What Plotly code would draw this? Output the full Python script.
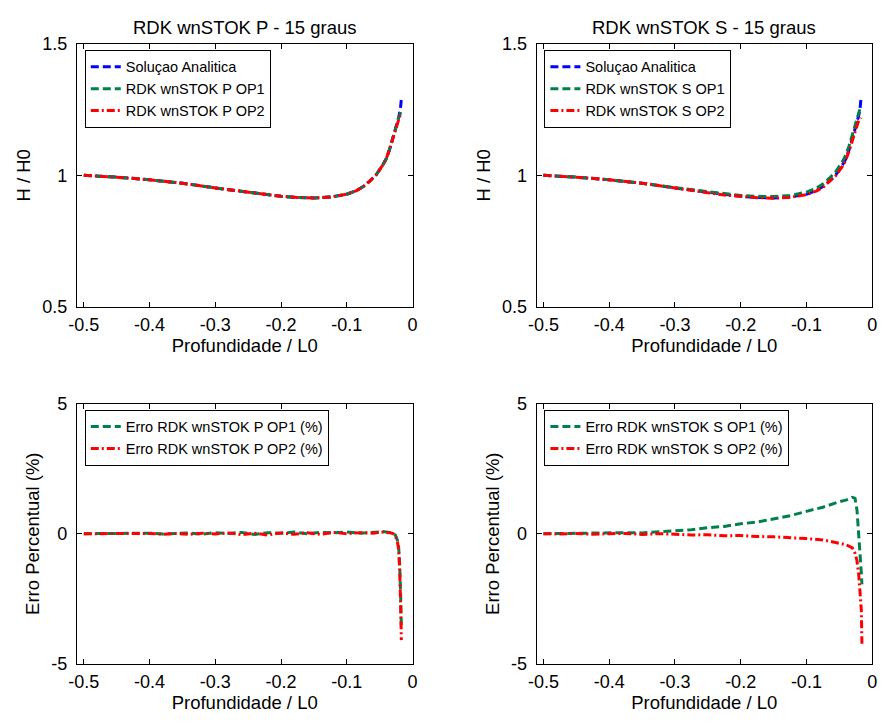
import plotly.graph_objects as go

# ---------------- data ----------------
depth_analytic = [-0.5, -0.45, -0.4, -0.35, -0.3, -0.275, -0.25, -0.225, -0.2, -0.175, -0.15,
                  -0.125, -0.1, -0.085, -0.075, -0.065, -0.055, -0.045, -0.04, -0.035, -0.03,
                  -0.025, -0.021, -0.0185, -0.017]
h_analytic = [1.000, 0.993, 0.983, 0.970, 0.952, 0.944, 0.935, 0.926, 0.920, 0.916, 0.914,
              0.917, 0.928, 0.942, 0.957, 0.978, 1.003, 1.040, 1.063, 1.098, 1.138,
              1.185, 1.222, 1.250, 1.290]

depth_num = [-0.5, -0.45, -0.4, -0.35, -0.3, -0.275, -0.25, -0.225, -0.2, -0.175, -0.15,
             -0.125, -0.1, -0.085, -0.075, -0.065, -0.055, -0.045, -0.04, -0.035, -0.03,
             -0.025, -0.021, -0.0175]
h_p_op1 = [1.000, 0.993, 0.983, 0.970, 0.952, 0.944, 0.935, 0.926, 0.920, 0.916, 0.914,
           0.917, 0.928, 0.942, 0.957, 0.978, 1.003, 1.040, 1.063, 1.098, 1.138,
           1.185, 1.220, 1.242]
h_p_op2 = [1.000, 0.993, 0.983, 0.970, 0.952, 0.944, 0.935, 0.926, 0.920, 0.916, 0.914,
           0.917, 0.928, 0.942, 0.957, 0.978, 1.003, 1.040, 1.063, 1.098, 1.138,
           1.185, 1.219, 1.240]
h_s_op1 = [1.000, 0.993, 0.983, 0.970, 0.953, 0.945, 0.937, 0.929, 0.923, 0.920, 0.919,
           0.923, 0.936, 0.951, 0.967, 0.989, 1.015, 1.053, 1.077, 1.113, 1.154,
           1.201, 1.230, 1.262]
h_s_op2 = [1.000, 0.993, 0.983, 0.970, 0.952, 0.944, 0.934, 0.925, 0.919, 0.915, 0.913,
           0.916, 0.926, 0.940, 0.954, 0.975, 0.999, 1.035, 1.058, 1.093, 1.133,
           1.176, 1.204, 1.220]

depth_err_p = [-0.5, -0.48, -0.46, -0.44, -0.42, -0.4, -0.38, -0.36, -0.34, -0.32, -0.3,
               -0.28, -0.26, -0.24, -0.22, -0.2, -0.18, -0.16, -0.14, -0.12, -0.1,
               -0.08, -0.06, -0.045, -0.035, -0.03, -0.026, -0.023, -0.021, -0.0195,
               -0.018, -0.017]
err_p_op1 = [0.00, 0.00, 0.01, 0.00, 0.01, 0.02, -0.01, 0.02, 0.03, -0.02, 0.04,
             0.01, 0.05, -0.03, 0.04, 0.02, 0.06, 0.00, 0.05, 0.03, 0.07,
             0.02, 0.06, 0.08, 0.05, 0.03, -0.06, -0.25, -0.55, -1.2, -2.4, -3.6]
err_p_op2 = [0.00, 0.00, 0.00, -0.01, 0.00, 0.01, -0.02, 0.01, -0.03, 0.02, -0.01,
             0.03, -0.04, 0.02, -0.05, 0.03, -0.02, 0.04, -0.03, 0.05, 0.00,
             0.04, 0.02, 0.06, 0.04, 0.01, -0.08, -0.30, -0.65, -1.4, -2.8, -4.1]

depth_err_s = [-0.5, -0.475, -0.45, -0.425, -0.4, -0.375, -0.35, -0.325, -0.3, -0.275,
               -0.25, -0.225, -0.2, -0.175, -0.15, -0.125, -0.1, -0.075, -0.05, -0.04,
               -0.03, -0.026, -0.023, -0.0205, -0.018, -0.0165, -0.0155]
err_s_op1 = [0.00, 0.01, 0.00, 0.03, 0.02, 0.04, 0.03, 0.06, 0.11, 0.15,
             0.23, 0.28, 0.38, 0.45, 0.58, 0.69, 0.86, 1.02, 1.23, 1.29,
             1.40, 1.36, 0.90, 0.10, -0.90, -1.50, -1.95]
err_s_op2 = [0.00, -0.01, 0.01, -0.02, 0.00, 0.01, -0.03, 0.00, -0.02, -0.05,
             -0.04, -0.08, -0.07, -0.11, -0.12, -0.15, -0.19, -0.24, -0.35, -0.42,
             -0.55, -0.75, -1.05, -1.55, -2.40, -2.93, -4.24]

titles = ["RDK wnSTOK P - 15 graus", "RDK wnSTOK S - 15 graus"]
x_ticks = [-0.5, -0.4, -0.3, -0.2, -0.1, 0]
x_ticklabels = ["-0.5", "-0.4", "-0.3", "-0.2", "-0.1", "0"]
h_ticks = [0.5, 1, 1.5]
h_ticklabels = ["0.5", "1", "1.5"]
e_ticks = [-5, 0, 5]
e_ticklabels = ["-5", "0", "5"]

# ---------------- styling ----------------
BLUE = "#0000FF"
GREEN = "#00804A"
RED = "#FF0000"
DASH = "8px,4px"
DASHDOT = "8px,3px,2px,3px"
LW = 3
FONT = "Liberation Sans, Arial, sans-serif"
TITLE_SIZE = 18.5
TICK_SIZE = 18
LEG_SIZE = 14.5

W, H = 885, 727
def px(x):
    return x / W
def py(y):
    return 1 - y / H

fig = go.Figure()

def add(x, y, name, color, dash, xa, ya, legend):
    fig.add_trace(go.Scatter(x=x, y=y, name=name, mode="lines",
                             line=dict(color=color, width=LW, dash=dash),
                             xaxis=xa, yaxis=ya, legend=legend))

# top-left
add(depth_analytic, h_analytic, "Soluçao Analitica", BLUE, DASH, "x", "y", "legend")
add(depth_num, h_p_op1, "RDK wnSTOK P OP1", GREEN, DASH, "x", "y", "legend")
add(depth_num, h_p_op2, "RDK wnSTOK P OP2", RED, DASHDOT, "x", "y", "legend")
# top-right
add(depth_analytic, h_analytic, "Soluçao Analitica", BLUE, DASH, "x2", "y2", "legend2")
add(depth_num, h_s_op1, "RDK wnSTOK S OP1", GREEN, DASH, "x2", "y2", "legend2")
add(depth_num, h_s_op2, "RDK wnSTOK S OP2", RED, DASHDOT, "x2", "y2", "legend2")
# bottom-left
add(depth_err_p, err_p_op1, "Erro RDK wnSTOK P OP1 (%)", GREEN, DASH, "x3", "y3", "legend3")
add(depth_err_p, err_p_op2, "Erro RDK wnSTOK P OP2 (%)", RED, DASHDOT, "x3", "y3", "legend3")
# bottom-right
add(depth_err_s, err_s_op1, "Erro RDK wnSTOK S OP1 (%)", GREEN, DASH, "x4", "y4", "legend4")
add(depth_err_s, err_s_op2, "Erro RDK wnSTOK S OP2 (%)", RED, DASHDOT, "x4", "y4", "legend4")

xdom_l = [px(69), px(410)]
xdom_r = [px(536), px(877)]
ydom_t = [py(305), py(35)]
ydom_b = [py(672), py(405)]

axis_common = dict(showline=True, linecolor="black", linewidth=1, mirror="ticks",
                   ticks="inside", ticklen=5, tickcolor="black", showgrid=False,
                   zeroline=False, tickfont=dict(family=FONT, size=TICK_SIZE, color="black"))

def xaxis(dom, anchor):
    return dict(domain=dom, anchor=anchor, range=[-0.5105, 0], tickvals=x_ticks,
                ticktext=x_ticklabels, ticklabelstandoff=2,
                title=dict(text="Profundidade / L0",
                           font=dict(family=FONT, size=TITLE_SIZE, color="black"),
                           standoff=4),
                **axis_common)

def yaxis(dom, anchor, rng, tv, tt, title):
    return dict(domain=dom, anchor=anchor, range=rng, tickvals=tv, ticktext=tt,
                ticklabelstandoff=5,
                title=dict(text=title, font=dict(family=FONT, size=TITLE_SIZE, color="black"),
                           standoff=6),
                **axis_common)

def legend(x, y):
    return dict(x=x, y=y, xanchor="left", yanchor="top", bgcolor="white",
                bordercolor="black", borderwidth=1,
                font=dict(family=FONT, size=LEG_SIZE, color="black"),
                tracegroupgap=0, itemwidth=30)

fig.update_layout(
    width=W, height=H, margin=dict(l=0, r=0, t=0, b=0),
    paper_bgcolor="white", plot_bgcolor="white",
    xaxis=xaxis(xdom_l, "y"), yaxis=yaxis(ydom_t, "x", [0.5, 1.5], h_ticks, h_ticklabels, "H / H0"),
    xaxis2=xaxis(xdom_r, "y2"), yaxis2=yaxis(ydom_t, "x2", [0.5, 1.5], h_ticks, h_ticklabels, "H / H0"),
    xaxis3=xaxis(xdom_l, "y3"), yaxis3=yaxis(ydom_b, "x3", [-5, 5], e_ticks, e_ticklabels, "Erro Percentual (%)"),
    xaxis4=xaxis(xdom_r, "y4"), yaxis4=yaxis(ydom_b, "x4", [-5, 5], e_ticks, e_ticklabels, "Erro Percentual (%)"),
    legend=legend(px(77), py(41)),
    legend2=legend(px(544), py(41)),
    legend3=legend(px(77), py(411)),
    legend4=legend(px(544), py(411)),
    showlegend=True,
)

for t, xc in zip(titles, [(69 + 410) / 2, (536 + 877) / 2]):
    fig.add_annotation(text=t, x=px(xc), y=py(18), xref="paper", yref="paper",
                       showarrow=False, xanchor="center", yanchor="middle",
                       font=dict(family=FONT, size=TITLE_SIZE, color="black"))

fig.write_html("out.html")
